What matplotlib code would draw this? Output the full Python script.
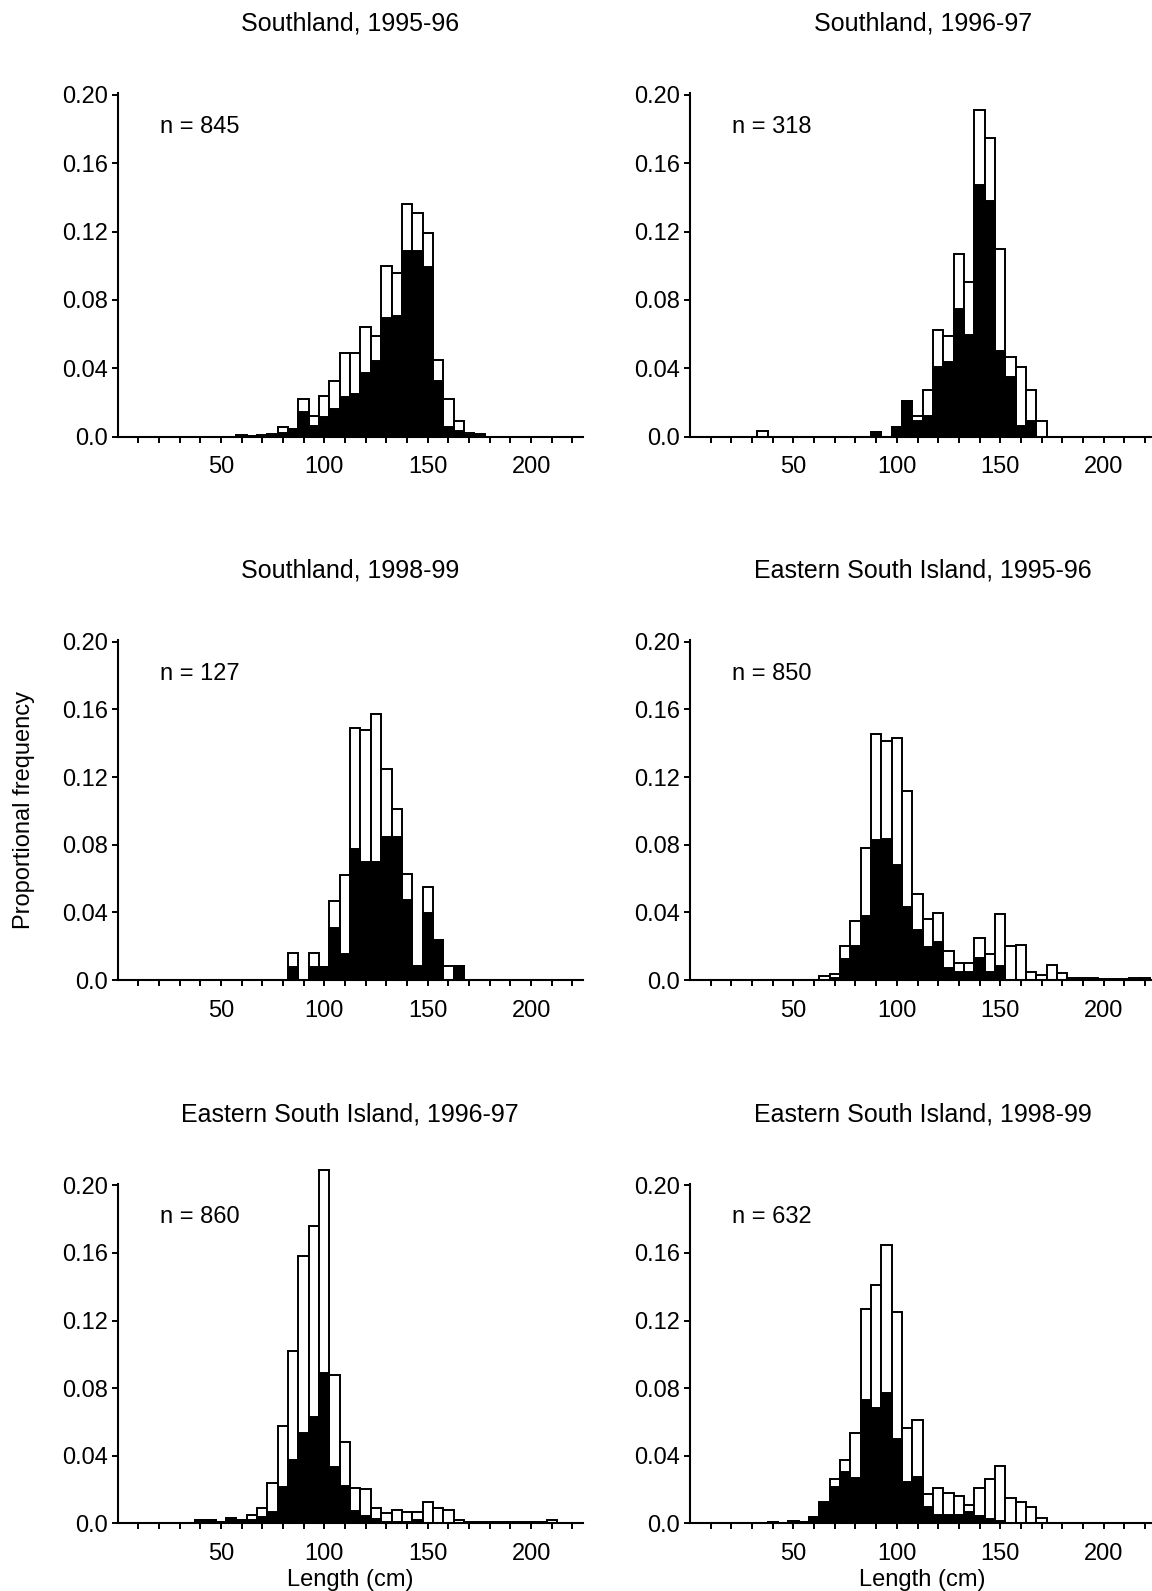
import matplotlib
matplotlib.use("Agg")
import matplotlib.pyplot as plt

plt.rcParams['font.family'] = ['Liberation Sans', 'DejaVu Sans']

# bin centres (cm), total proportion (open bars) and black portion
sl9596_len = [60, 65, 70, 75, 80, 85, 90, 95, 100, 105, 110, 115, 120, 125, 130, 135,
              140, 145, 150, 155, 160, 165, 170, 175]
sl9596_all = [0.001, 0.0005, 0.001, 0.0015, 0.0055, 0.0045, 0.0218, 0.012, 0.024, 0.0326,
              0.049, 0.0487, 0.064, 0.059, 0.100, 0.096, 0.136, 0.131, 0.119, 0.045,
              0.0218, 0.0094, 0.0023, 0.0015]
sl9596_blk = [0, 0, 0, 0.0005, 0.002, 0.0045, 0.0146, 0.006, 0.0117, 0.016,
              0.023, 0.025, 0.037, 0.044, 0.0696, 0.0706, 0.1086, 0.1086, 0.099, 0.0326,
              0.0055, 0.0035, 0.001, 0.0005]

sl9697_len = [35, 90, 100, 105, 110, 115, 120, 125, 130, 135, 140, 145, 150, 155, 160, 165, 170]
sl9697_all = [0.003, 0.0025, 0.0055, 0.021, 0.012, 0.0275, 0.0626, 0.059, 0.107, 0.0906,
              0.191, 0.175, 0.1097, 0.0468, 0.0405, 0.0275, 0.0094]
sl9697_blk = [0, 0.0025, 0.0055, 0.021, 0.009, 0.0123, 0.0405, 0.0435, 0.0747, 0.0595,
              0.147, 0.138, 0.0503, 0.0347, 0.0064, 0.0094, 0]

sl9899_len = [85, 95, 100, 105, 110, 115, 120, 125, 130, 135, 140, 145, 150, 155, 160, 165]
sl9899_all = [0.0157, 0.0157, 0.0075, 0.047, 0.062, 0.149, 0.148, 0.157, 0.1245, 0.101,
              0.0628, 0.0081, 0.0548, 0.0239, 0.0081, 0.0081]
sl9899_blk = [0.0075, 0.0075, 0.0075, 0.031, 0.0153, 0.0773, 0.070, 0.070, 0.0846, 0.0846,
              0.0475, 0.0081, 0.0396, 0.0239, 0, 0.0081]

esi9596_len = [65, 70, 75, 80, 85, 90, 95, 100, 105, 110, 115, 120, 125, 130, 135, 140,
               145, 150, 155, 160, 165, 170, 175, 180, 185, 190, 195, 200, 205, 210, 215, 220]
esi9596_all = [0.0024, 0.0037, 0.020, 0.035, 0.078, 0.1455, 0.1416, 0.143, 0.112, 0.051,
               0.0358, 0.0397, 0.0171, 0.0098, 0.0098, 0.0246, 0.0155, 0.039, 0.0204, 0.021,
               0.0049, 0.003, 0.0087, 0.0043, 0.0014, 0.001, 0.001, 0.0008, 0.0008, 0.0008,
               0.001, 0.0012]
esi9596_blk = [0, 0.001, 0.0122, 0.020, 0.038, 0.0826, 0.0836, 0.068, 0.043, 0.0295,
               0.0197, 0.0226, 0.0069, 0.0049, 0.0049, 0.0132, 0.0049, 0.0083, 0, 0,
               0, 0, 0, 0, 0, 0, 0, 0, 0, 0, 0, 0]

esi9697_len = [40, 45, 50, 55, 60, 65, 70, 75, 80, 85, 90, 95, 100, 105, 110, 115, 120,
               125, 130, 135, 140, 145, 150, 155, 160, 165, 170, 175, 180, 185, 190, 195,
               200, 205, 210]
esi9697_all = [0.002, 0.002, 0.001, 0.0034, 0.002, 0.005, 0.0093, 0.024, 0.0576, 0.102,
               0.158, 0.176, 0.209, 0.088, 0.048, 0.021, 0.0203, 0.0089, 0.0063, 0.0079,
               0.0069, 0.0069, 0.0128, 0.0093, 0.0079, 0.002, 0.001, 0.0005, 0.0005, 0.0005,
               0.0005, 0.0005, 0.0005, 0.0005, 0.0022]
esi9697_blk = [0.002, 0.002, 0.001, 0.0034, 0.002, 0.002, 0.004, 0.0069, 0.0213, 0.0375,
               0.0533, 0.0627, 0.0888, 0.0335, 0.0223, 0.0075, 0.0045, 0.0026, 0.001, 0.001,
               0.001, 0.002, 0, 0, 0, 0, 0, 0, 0, 0, 0, 0, 0, 0, 0]

esi9899_len = [40, 50, 55, 60, 65, 70, 75, 80, 85, 90, 95, 100, 105, 110, 115, 120, 125,
               130, 135, 140, 145, 150, 155, 160, 165, 170]
esi9899_all = [0.001, 0.0014, 0.0005, 0.0037, 0.0128, 0.026, 0.0373, 0.0536, 0.1266, 0.141,
               0.1645, 0.125, 0.0566, 0.061, 0.0176, 0.0211, 0.018, 0.016, 0.011, 0.021,
               0.026, 0.034, 0.0148, 0.0126, 0.0099, 0.0034]
esi9899_blk = [0.001, 0.0014, 0.0005, 0.0037, 0.012, 0.0215, 0.0306, 0.027, 0.073, 0.0684,
               0.0773, 0.050, 0.0245, 0.0274, 0.0097, 0.0049, 0.0049, 0.0049, 0.0067, 0.0043,
               0.0024, 0.0014, 0, 0, 0, 0]

titles = ["Southland, 1995-96", "Southland, 1996-97", "Southland, 1998-99",
          "Eastern South Island, 1995-96", "Eastern South Island, 1996-97",
          "Eastern South Island, 1998-99"]
n_labels = ["n = 845", "n = 318", "n = 127", "n = 850", "n = 860", "n = 632"]

panels = [(sl9596_len, sl9596_all, sl9596_blk), (sl9697_len, sl9697_all, sl9697_blk),
          (sl9899_len, sl9899_all, sl9899_blk), (esi9596_len, esi9596_all, esi9596_blk),
          (esi9697_len, esi9697_all, esi9697_blk), (esi9899_len, esi9899_all, esi9899_blk)]

y_ticks = [0.0, 0.04, 0.08, 0.12, 0.16, 0.20]
y_ticklabels = ["0.0", "0.04", "0.08", "0.12", "0.16", "0.20"]
x_ticks = list(range(10, 221, 10))
x_ticklabels = [str(t) if t in (50, 100, 150, 200) else "" for t in x_ticks]

fig = plt.figure(figsize=(11.52, 15.91), dpi=100)

lefts = [0.1020, 0.5990]
rows = [(0.7256, 0.2158), (0.3840, 0.2137), (0.04255, 0.2135)]
width = 0.4039

for i, (lens, tot, blk) in enumerate(panels):
    bottom, height = rows[i // 2]
    ax = fig.add_axes([lefts[i % 2], bottom, width, height])
    ax.bar(lens, tot, width=5, color="white", edgecolor="black", linewidth=1.4, clip_on=False, zorder=2)
    ax.bar(lens, blk, width=5, color="black", edgecolor="black", linewidth=1.4, clip_on=False, zorder=3)
    ax.set_xlim(0, 225)
    ax.set_ylim(0, 0.201)
    ax.spines['top'].set_visible(False)
    ax.spines['right'].set_visible(False)
    ax.spines['left'].set_linewidth(1.5)
    ax.spines['bottom'].set_linewidth(1.5)
    ax.spines['bottom'].set_zorder(4)
    ax.set_yticks(y_ticks)
    ax.set_yticklabels(y_ticklabels)
    ax.set_xticks(x_ticks)
    ax.set_xticklabels(x_ticklabels)
    ax.tick_params(axis='y', direction='out', length=4, width=1.4, pad=3, labelsize=17)
    ax.tick_params(axis='x', direction='out', length=4, width=1.4, pad=10, labelsize=17)
    ax.set_title(titles[i], fontsize=18, pad=45)
    ax.text(20.5, 0.181, n_labels[i], fontsize=17, ha='left', va='center')
    if i == 2:
        ax.set_ylabel("Proportional frequency", fontsize=17, labelpad=19)
    if i >= 4:
        ax.set_xlabel("Length (cm)", fontsize=17, labelpad=3)

fig.savefig("out.png", dpi=100)
